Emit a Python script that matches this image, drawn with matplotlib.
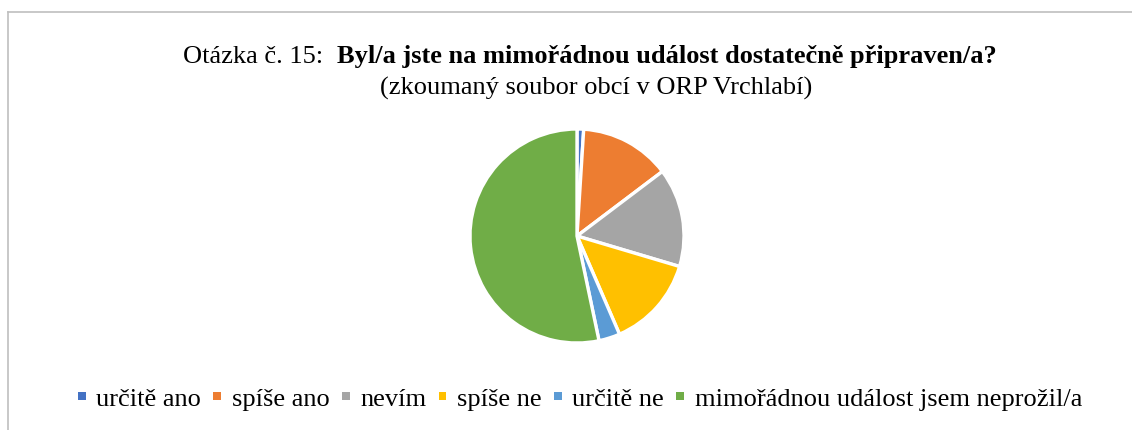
import matplotlib
matplotlib.use("Agg")
import matplotlib.pyplot as plt
from matplotlib.patches import Patch
from matplotlib.lines import Line2D

categories = ["určitě ano", "spíše ano", "nevím", "spíše ne", "určitě ne",
              "mimořádnou událost jsem neprožil/a"]
values = [1.0, 13.7, 14.9, 13.9, 3.2, 53.3]
colors = ["#4472C4", "#ED7D31", "#A5A5A5", "#FFC000", "#5B9BD5", "#70AD47"]
title_normal = "Otázka č. 15:  "
title_bold = "Byl/a jste na mimořádnou událost dostatečně připraven/a?"
subtitle = "(zkoumaný soubor obcí v ORP Vrchlabí)"

W, H = 1132, 430
plt.rcParams['font.family'] = ['Liberation Serif', 'DejaVu Serif']
fig = plt.figure(figsize=(W / 100, H / 100), dpi=100)

# frame
fig.add_artist(Line2D([8 / W, 8 / W], [0, 1 - 12 / H], color="#BFBFBF", lw=1.2,
                      transform=fig.transFigure))
fig.add_artist(Line2D([8 / W, 1], [1 - 12 / H, 1 - 12 / H], color="#BFBFBF", lw=1.2,
                      transform=fig.transFigure))

# pie
cx, cy, r = 577, 236, 107
ax = fig.add_axes([(cx - r) / W, (H - cy - r) / H, 2 * r / W, 2 * r / H])
ax.pie(values, colors=colors, startangle=90, counterclock=False,
       wedgeprops=dict(edgecolor="white", linewidth=2.4))
ax.set_aspect("equal")
ax.set_xlim(-1, 1)
ax.set_ylim(-1, 1)

# title with mixed weights
fs = 19
renderer = fig.canvas.get_renderer()
t1 = fig.text(0, 1 - 63 / H, title_normal, fontsize=fs, va="baseline", ha="left")
t2 = fig.text(0, 1 - 63 / H, title_bold, fontsize=fs, fontweight="bold",
              va="baseline", ha="left")
w1 = t1.get_window_extent(renderer).width
w2 = t2.get_window_extent(renderer).width
start = 590 - (w1 + w2) / 2
t1.set_x(start / W)
t2.set_x((start + w1) / W)
fig.text(596 / W, 1 - 95 / H, subtitle, fontsize=fs, va="baseline", ha="center")

# legend
handles = [Patch(facecolor=c, edgecolor="none") for c in colors]
fig.legend(handles, categories, loc="center", bbox_to_anchor=(580 / W, 1 - 400 / H),
           ncol=6, frameon=False, prop=dict(family="Liberation Serif", size=fs),
           handlelength=0.3, handleheight=0.085,
           handletextpad=0.4, columnspacing=0.46, borderpad=0, borderaxespad=0)

fig.savefig("out.png", dpi=100)
